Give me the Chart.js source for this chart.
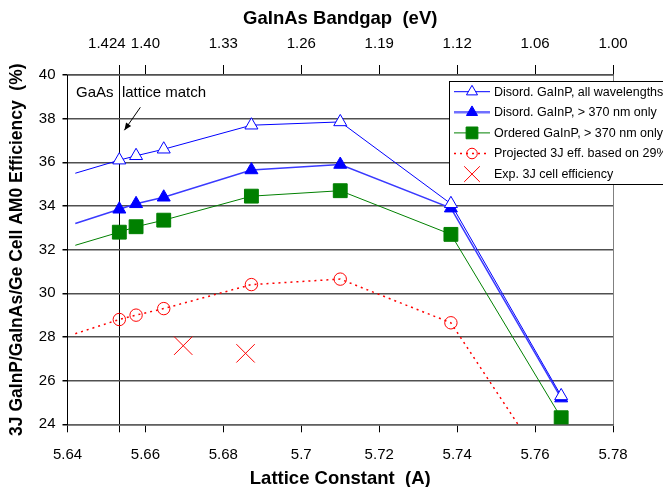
<!DOCTYPE html>
<html>
<head>
<meta charset="utf-8">
<script src="https://cdn.jsdelivr.net/npm/chart.js@4.4.0/dist/chart.umd.min.js"></script>
<style>
  html, body { margin: 0; padding: 0; background: #fff; }
  #wrap { width: 663px; height: 487px; position: relative; }
</style>
</head>
<body>
<div id="wrap"><canvas id="chart"></canvas></div>
<script>
// Lattice constant (A) of the GaInAs middle cell; first entry is only the line start
const lattice = [5.642, 5.6533, 5.6576, 5.6647, 5.6872, 5.7100, 5.7384, 5.7667];

// Efficiency (%) series
const disordAll = [35.5, 36.1, 36.3, 36.6, 37.7, 37.85, 34.1, 25.3];
const disord370 = [33.2, 33.85, 34.1, 34.4, 35.65, 35.9, 33.9, 25.2];
const ordered370 = [32.2, 32.8, 33.05, 33.35, 34.45, 34.7, 32.7, 24.3];
const projected = [28.15, 28.8, 29.0, 29.3, 30.4, 30.65, 28.65, 21.0];

// Experimental 3J cells
const expLattice = [5.6697, 5.6857];
const expEff = [27.6, 27.25];

// Axes
const gaasA = 5.6533;
const bottomTicks = [5.64, 5.66, 5.68, 5.70, 5.72, 5.74, 5.76, 5.78];
const topTickPos = [5.6533, 5.66, 5.68, 5.70, 5.72, 5.74, 5.76, 5.78];
const topTickLabels = ['1.424', '1.40', '1.33', '1.26', '1.19', '1.12', '1.06', '1.00'];

const FONT = '"Liberation Sans", Arial, sans-serif';
const BLUE = '#0000ff';
const GREEN = '#008000';
const RED = '#ff0000';

function pts(xs, ys) {
    return xs.map((x, i) => ({ x: x, y: ys[i] }));
}
const noFirst = r => ctx => ctx.dataIndex === 0 ? 0 : r;

const datasets = [
    {
        label: 'Disord. GaInP, all wavelengths',
        data: pts(lattice, disordAll),
        borderColor: BLUE, borderWidth: 1,
        pointStyle: 'triangle', pointRadius: noFirst(7.5),
        pointBackgroundColor: '#fff', pointBorderColor: BLUE, pointBorderWidth: 1
    },
    {
        label: 'Disord. GaInP, > 370 nm only',
        data: pts(lattice, disord370),
        borderColor: '#3a3aff', borderWidth: 1.5,
        pointStyle: 'triangle', pointRadius: noFirst(7.5),
        pointBackgroundColor: BLUE, pointBorderColor: BLUE, pointBorderWidth: 1
    },
    {
        label: 'Ordered GaInP, > 370 nm only',
        data: pts(lattice, ordered370),
        borderColor: GREEN, borderWidth: 1,
        pointStyle: 'rect', pointRadius: noFirst(9.8),
        pointBackgroundColor: GREEN, pointBorderColor: GREEN, pointBorderWidth: 1
    },
    {
        label: 'Projected 3J eff. based on 29%',
        data: pts(lattice, projected),
        borderColor: RED, borderWidth: 1.5, borderDash: [2, 4],
        pointStyle: 'circle', pointRadius: noFirst(6.2),
        pointBackgroundColor: 'rgba(0,0,0,0)', pointBorderColor: RED, pointBorderWidth: 1
    },
    {
        label: 'Exp. 3J cell efficiency',
        data: pts(expLattice, expEff),
        showLine: false,
        pointStyle: 'crossRot', pointRadius: 13,
        pointBorderColor: RED, pointBorderWidth: 1
    }
];

// Legend box with line + marker samples, drawn over the plot (runs off the right edge)
const legendBox = {
    id: 'legendBox',
    afterDraw(chart) {
        const ctx = chart.ctx;
        const left = 449, top = 81, bottom = 184;
        ctx.save();
        ctx.fillStyle = '#fff';
        ctx.fillRect(left, top, 300, bottom - top);
        ctx.strokeStyle = '#000';
        ctx.lineWidth = 1;
        ctx.strokeRect(left + 0.5, top + 0.5, 300, bottom - top);
        ctx.font = '12.5px ' + FONT;
        ctx.textBaseline = 'middle';
        chart.data.datasets.forEach((ds, i) => {
            const y = 91.7 + i * 20.6;
            if (ds.showLine !== false) {
                ctx.save();
                ctx.strokeStyle = ds.borderColor;
                ctx.lineWidth = i === 1 ? 2.5 : ds.borderWidth;
                if (i === 1) ctx.strokeStyle = '#7070ff';
                ctx.setLineDash(ds.borderDash || []);
                ctx.beginPath();
                ctx.moveTo(454, y);
                ctx.lineTo(490, y);
                ctx.stroke();
                ctx.restore();
            }
            ctx.save();
            ctx.fillStyle = ds.pointBackgroundColor || 'rgba(0,0,0,0)';
            ctx.strokeStyle = ds.pointBorderColor;
            ctx.lineWidth = ds.pointBorderWidth;
            const r = typeof ds.pointRadius === 'function' ? ds.pointRadius({ dataIndex: 1 }) : ds.pointRadius;
            Chart.helpers.drawPoint(ctx, { pointStyle: ds.pointStyle, radius: r * 0.85, rotation: 0, borderWidth: ds.pointBorderWidth }, 472, y);
            ctx.restore();
            ctx.fillStyle = '#000';
            ctx.fillText(ds.label, 494, y + 0.5);
        });
        ctx.restore();
    }
};

// "GaAs lattice match" note with arrow
const gaasNote = {
    id: 'gaasNote',
    afterDatasetsDraw(chart) {
        const ctx = chart.ctx;
        const x = chart.scales.x, y = chart.scales.y;
        ctx.save();
        ctx.fillStyle = '#000';
        ctx.font = '15px ' + FONT;
        ctx.textBaseline = 'middle';
        ctx.fillText('GaAs  lattice match', x.getPixelForValue(5.6422), y.getPixelForValue(39.2));
        const x1 = x.getPixelForValue(5.6587), y1 = y.getPixelForValue(38.52);
        const x2 = x.getPixelForValue(5.6546), y2 = y.getPixelForValue(37.47);
        ctx.strokeStyle = '#000';
        ctx.lineWidth = 1;
        ctx.beginPath();
        ctx.moveTo(x1, y1);
        ctx.lineTo(x2, y2);
        ctx.stroke();
        const ang = Math.atan2(y2 - y1, x2 - x1);
        ctx.beginPath();
        ctx.moveTo(x2, y2);
        ctx.lineTo(x2 - 8 * Math.cos(ang - 0.4), y2 - 8 * Math.sin(ang - 0.4));
        ctx.lineTo(x2 - 8 * Math.cos(ang + 0.4), y2 - 8 * Math.sin(ang + 0.4));
        ctx.closePath();
        ctx.fill();
        ctx.restore();
    }
};

new Chart(document.getElementById('chart'), {
    type: 'line',
    data: { datasets: datasets },
    options: {
        responsive: true,
        maintainAspectRatio: false,
        animation: false,
        devicePixelRatio: 1,
        layout: { padding: { left: 0, right: 50, top: 0, bottom: 0 } },
        plugins: { legend: { display: false }, tooltip: { enabled: false } },
        elements: { line: { tension: 0 } },
        scales: {
            x: {
                type: 'linear', position: 'bottom',
                min: 5.64, max: 5.78,
                afterBuildTicks: axis => {
                    axis.ticks = bottomTicks.concat([gaasA]).map(v => ({ value: v }));
                },
                afterFit: axis => { axis.height = 62.7; },
                ticks: {
                    autoSkip: false, maxRotation: 0, padding: 14,
                    color: '#000', font: { family: FONT, size: 15 },
                    callback: v => v === gaasA ? '' : String(Number(v.toFixed(2)))
                },
                grid: {
                    drawOnChartArea: true, tickLength: 8, tickColor: '#000', lineWidth: 1,
                    color: c => c.tick && c.tick.value === gaasA ? '#000' : (c.tick && c.tick.value === 5.78 ? '#808080' : 'rgba(0,0,0,0)')
                },
                border: { display: true, color: '#606060', width: 1.5 },
                title: {
                    display: true, text: 'Lattice Constant  (A)', color: '#000',
                    font: { family: FONT, size: 18.5, weight: 'bold' }, padding: { top: 0, bottom: -3 }
                }
            },
            x2: {
                type: 'linear', position: 'top',
                min: 5.64, max: 5.78,
                afterBuildTicks: axis => {
                    axis.ticks = topTickPos.map(v => ({ value: v }));
                },
                afterFit: axis => { axis.height = 75; },
                ticks: {
                    autoSkip: false, maxRotation: 0, padding: 12,
                    color: '#000', font: { family: FONT, size: 15 },
                    callback: (v, i) => i === 0 ? topTickLabels[i] + '      ' : topTickLabels[i]
                },
                grid: {
                    drawOnChartArea: true, tickLength: 10, tickColor: '#000', lineWidth: 1,
                    color: c => c.tick && c.tick.value === gaasA ? '#000' : 'rgba(0,0,0,0)'
                },
                border: { display: true, color: '#505050', width: 1.5 },
                title: {
                    display: true, text: 'GaInAs Bandgap  (eV)', color: '#000',
                    font: { family: FONT, size: 18.5, weight: 'bold' }, padding: { top: 8, bottom: 0 }
                }
            },
            y: {
                min: 24, max: 40,
                afterFit: axis => { axis.width = 67.5; },
                ticks: {
                    stepSize: 2, padding: 7,
                    color: '#000', font: { family: FONT, size: 15 }
                },
                grid: { color: '#505050', lineWidth: 1.5, tickLength: 5, tickColor: '#000' },
                border: { display: true, color: '#000', width: 1 },
                title: {
                    display: true, text: '3J GaInP/GaInAs/Ge Cell AM0 Efficiency  (%)', color: '#000',
                    font: { family: FONT, size: 17.5, weight: 'bold' }, padding: { top: 7, bottom: 0 }
                }
            }
        }
    },
    plugins: [gaasNote, legendBox]
});
</script>
</body>
</html>
